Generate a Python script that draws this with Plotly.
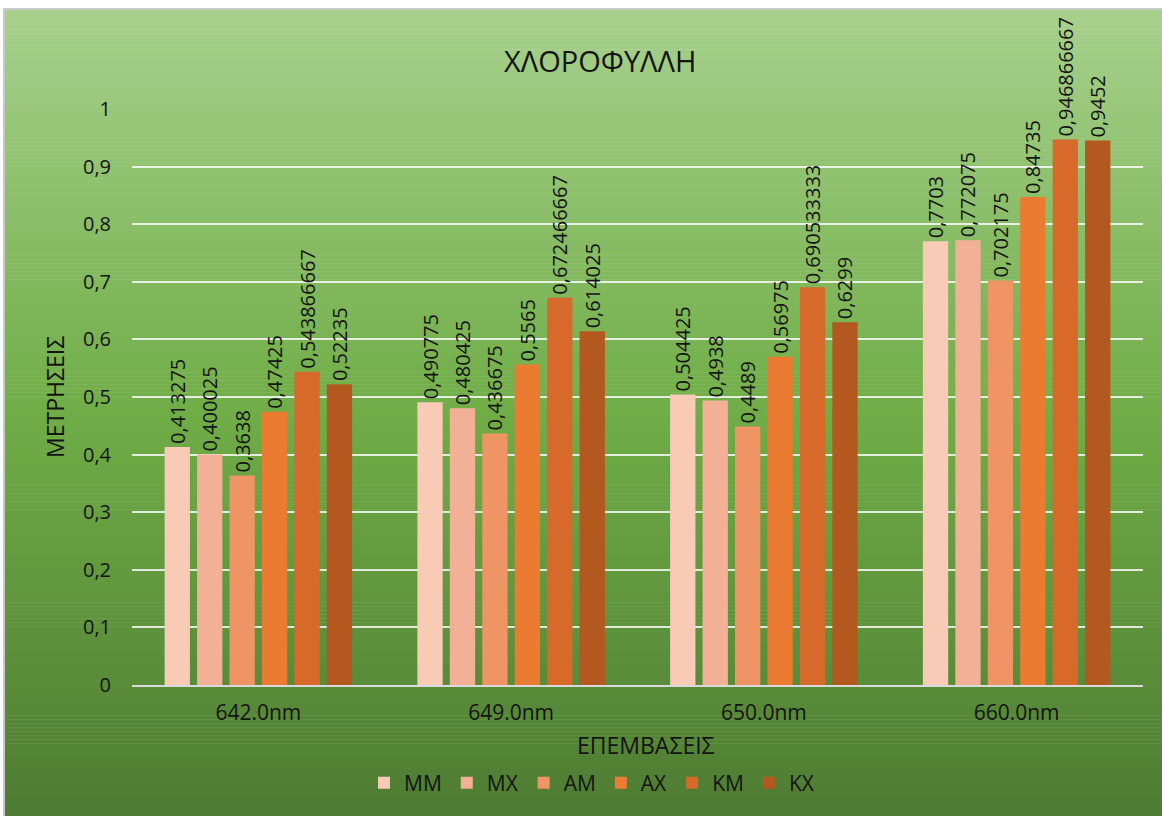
import plotly.graph_objects as go

categories = ["642.0nm", "649.0nm", "650.0nm", "660.0nm"]
series_names = ["MM", "MX", "AM", "AX", "KM", "KX"]
MM = [0.413275, 0.490775, 0.504425, 0.7703]
MX = [0.400025, 0.480425, 0.4938, 0.772075]
AM = [0.3638, 0.436675, 0.4489, 0.702175]
AX = [0.47425, 0.5565, 0.56975, 0.84735]
KM = [0.543866667, 0.672466667, 0.690533333, 0.946866667]
KX = [0.52235, 0.614025, 0.6299, 0.9452]
series_values = [MM, MX, AM, AX, KM, KX]
colors = ["#F7CBB6", "#F2B196", "#EF9465", "#EB7B30", "#D7692A", "#B3581F"]

W, H = 1162, 816
ML, MR, MT, MB = 132, 19, 109, 131
pw, ph = W - ML - MR, H - MT - MB
FONT = "Open Sans"
TXT = "#141414"
FS = 20

fig = go.Figure()
for name, vals, col in zip(series_names, series_values, colors):
    fig.add_trace(go.Bar(
        name=name, x=categories, y=vals, marker_color=col, marker_line_width=0,
        text=[str(v).replace(".", ",") for v in vals],
        textposition="outside", textangle=-90, cliponaxis=False,
        constraintext="none",
        textfont=dict(family=FONT, size=FS, color=TXT),
    ))

# gradient background via strips
def lerp(a, b, t):
    return tuple(int(round(a[i] + (b[i] - a[i]) * t)) for i in range(3))
top, mid, bot = (167, 208, 140), (112, 173, 71), (78, 123, 50)
shapes = []
y_start, y_end = 9, H
x_start = 4
N = 200
for i in range(N):
    py0 = y_start + (y_end - y_start) * i / N
    py1 = y_start + (y_end - y_start) * (i + 1) / N + 0.5
    t = (i + 0.5) / N
    c = lerp(top, mid, t / 0.5) if t < 0.5 else lerp(mid, bot, (t - 0.5) / 0.5)
    shapes.append(dict(
        type="rect", xref="paper", yref="paper", layer="below",
        x0=(x_start - ML) / pw, x1=(W - ML) / pw,
        y0=(H - MB - py1) / ph, y1=(H - MB - py0) / ph,
        fillcolor="rgb(%d,%d,%d)" % c, line_width=0,
    ))
shapes.append(dict(
    type="rect", xref="paper", yref="paper", layer="above",
    x0=(x_start - ML) / pw, x1=(W - ML + 2) / pw,
    y0=(H - MB - H - 2) / ph, y1=(H - MB - y_start) / ph,
    fillcolor="rgba(0,0,0,0)", line=dict(color="#C8C8C8", width=2),
))

fig.update_layout(
    width=W, height=H,
    margin=dict(l=ML, r=MR, t=MT, b=MB),
    paper_bgcolor="white", plot_bgcolor="rgba(0,0,0,0)",
    separators=",.",
    barmode="group", bargap=0.23, bargroupgap=0.22,
    font=dict(family=FONT, size=FS, color=TXT),
    shapes=shapes,
    showlegend=True,
    legend=dict(orientation="h", x=0.455, xanchor="center", y=(685 - 783) / ph,
                yanchor="middle", font=dict(size=21, color=TXT),
                bgcolor="rgba(0,0,0,0)", traceorder="normal", itemwidth=30),
    xaxis=dict(showgrid=False, showline=True, linecolor="#D9D9D9", linewidth=2,
               ticks="", tickfont=dict(size=21, color=TXT), ticklabelstandoff=8),
    yaxis=dict(range=[0, 1], dtick=0.1, showgrid=True, gridcolor="rgba(255,255,255,0.8)",
               gridwidth=2, zeroline=False, showline=False, ticks="",
               tickfont=dict(size=FS, color=TXT), ticklabelstandoff=20),
    annotations=[
        dict(text="ΧΛΟΡΟΦΥΛΛΗ", xref="paper", yref="paper",
             x=(600 - ML) / pw, y=(H - MB - 60) / ph, showarrow=False,
             font=dict(size=29, color=TXT), xanchor="center", yanchor="middle"),
        dict(text="ΜΕΤΡΗΣΕΙΣ", xref="paper", yref="paper",
             x=(55 - ML) / pw, y=(H - MB - 397) / ph, showarrow=False, textangle=-90,
             font=dict(size=23, color=TXT), xanchor="center", yanchor="middle"),
        dict(text="ΕΠΕΜΒΑΣΕΙΣ", xref="paper", yref="paper",
             x=(646 - ML) / pw, y=(H - MB - 745) / ph, showarrow=False,
             font=dict(size=23, color=TXT), xanchor="center", yanchor="middle"),
    ],
)

fig.write_html("out.html")
